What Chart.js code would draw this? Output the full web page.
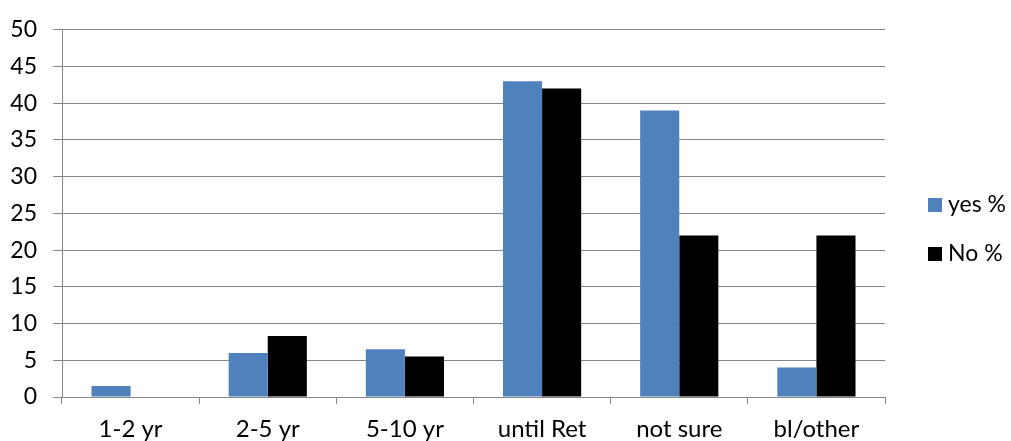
<!DOCTYPE html>
<html>
<head>
<meta charset="utf-8">
<script src="https://cdn.jsdelivr.net/npm/chart.js@4/dist/chart.umd.min.js"></script>
<style>
  html, body { margin: 0; padding: 0; background: #ffffff; }
  #wrap { width: 1011px; height: 441px; }
</style>
</head>
<body>
<div id="wrap"><canvas id="c" width="1011" height="441"></canvas></div>
<script>
// Time horizon answers, percent of respondents
const categories = ['1-2 yr', '2-5 yr', '5-10 yr', 'until Ret', 'not sure', 'bl/other'];
const yesPct = [1.5, 6, 6.5, 43, 39, 4];
const noPct = [0, 8.3, 5.5, 42, 22, 22];
const seriesNames = ['yes %', 'No %'];
const yMin = 0, yMax = 50, yStep = 5;

const FONT = 'Lato, "Open Sans", sans-serif';
const GRID = '#878787';

// Legend drawn at the right of the plot, one row per series
const sideLegend = {
  id: 'sideLegend',
  afterDraw(chart) {
    const ctx = chart.ctx;
    const rows = [198, 247];
    ctx.save();
    ctx.font = '23px ' + FONT;
    ctx.textBaseline = 'middle';
    ctx.textAlign = 'left';
    chart.data.datasets.forEach((ds, i) => {
      const y = rows[i];
      ctx.fillStyle = ds.backgroundColor;
      ctx.fillRect(928, y, 14, 14);
      ctx.fillStyle = '#000000';
      ctx.fillText(ds.label, 948, y + 7);
    });
    ctx.restore();
  }
};

new Chart(document.getElementById('c'), {
  type: 'bar',
  data: {
    labels: categories,
    datasets: [
      { label: seriesNames[0], data: yesPct, backgroundColor: '#4F81BD' },
      { label: seriesNames[1], data: noPct, backgroundColor: '#000000' }
    ]
  },
  options: {
    responsive: false,
    animation: false,
    devicePixelRatio: 1,
    layout: { padding: { top: 24, right: 126, bottom: 0, left: 0 } },
    datasets: { bar: { barPercentage: 1.0, categoryPercentage: 0.57 } },
    plugins: { legend: { display: false }, tooltip: { enabled: false } },
    scales: {
      x: {
        offset: true,
        afterFit(scale) { scale.height = 44; },
        grid: {
          offset: true,
          drawOnChartArea: false,
          drawTicks: true,
          tickLength: 7,
          color: GRID,
          lineWidth: 1
        },
        border: { display: true, color: GRID, width: 1 },
        ticks: { color: '#000000', font: { family: FONT, size: 24 }, padding: 11, maxRotation: 0, autoSkip: false }
      },
      y: {
        min: yMin,
        max: yMax,
        afterFit(scale) { scale.width = 62; },
        grid: { color: GRID, lineWidth: 1, drawTicks: true, tickLength: 9 },
        border: { display: true, color: GRID, width: 1 },
        ticks: { stepSize: yStep, color: '#000000', font: { family: FONT, size: 23 }, padding: 16 }
      }
    }
  },
  plugins: [sideLegend]
});
</script>
</body>
</html>
